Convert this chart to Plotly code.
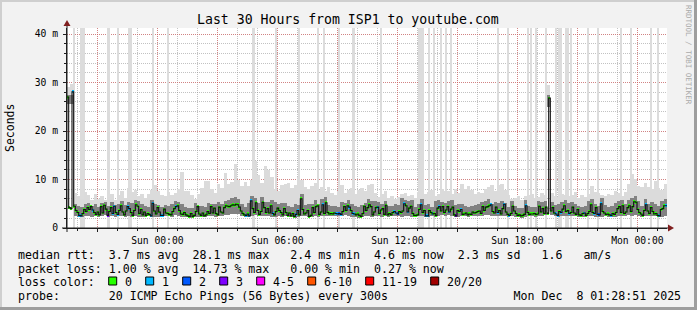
import pandas as pd
import plotly.graph_objects as go

# ---------------- data ----------------
START = "2025-12-06 19:28:51"
END = "2025-12-08 01:28:51"

# median RTT per 5-minute step (ms), 12 values per hour
median_ms = [
    27.0, 4.2, 4.0, 28.1, 4.5, 3.6, 3.2, 2.6, 2.5, 3.0, 3.8, 3.4,
    4.2, 3.8, 4.4, 3.7, 3.2, 2.8, 3.3, 2.7, 4.4, 3.1, 4.7, 3.9,
    2.6, 3.4, 4.2, 3.0, 4.5, 3.2, 2.8, 3.6, 4.6, 3.3, 2.7, 3.5,
    4.4, 4.0, 3.2, 2.6, 3.6, 4.8, 4.5, 3.0, 3.8, 2.7, 3.3, 2.6,
    3.0, 2.8, 2.5, 5.1, 3.5, 2.9, 4.2, 3.3, 2.6, 2.6, 3.9, 3.1,
    3.0, 2.8, 2.7, 3.4, 4.0, 4.4, 4.6, 3.6, 2.9, 2.8, 3.2, 2.7,
    2.5, 2.4, 3.0, 2.4, 2.6, 3.4, 4.4, 2.9, 2.6, 3.1, 2.5, 2.7,
    3.4, 3.0, 4.4, 3.1, 4.1, 3.0, 2.7, 4.3, 3.3, 3.1, 4.2, 4.6,
    4.5, 4.4, 4.6, 4.8, 4.7, 4.9, 4.8, 4.3, 3.5, 3.0, 2.7, 2.6,
    2.9, 2.5, 5.6, 4.0, 3.2, 5.2, 3.6, 2.8, 3.4, 5.3, 4.2, 3.2,
    4.0, 3.1, 4.6, 3.0, 2.7, 3.4, 4.1, 3.6, 3.2, 2.7, 4.0, 3.2,
    2.6, 3.1, 2.5, 3.0, 2.4, 2.8, 3.6, 2.7, 6.0, 3.8, 2.9, 3.1,
    3.6, 2.4, 2.6, 4.2, 3.2, 4.4, 4.6, 2.8, 3.3, 4.8, 3.0, 5.2,
    3.2, 2.9, 3.0, 2.9, 3.1, 3.0, 2.9, 3.0, 2.8, 3.4, 4.4, 3.6,
    4.6, 4.3, 3.6, 3.0, 2.9, 2.7, 2.9, 2.6, 2.4, 3.0, 4.5, 3.6,
    4.2, 4.8, 4.4, 2.7, 3.3, 4.2, 4.3, 3.0, 3.7, 4.0, 2.8, 4.7,
    2.7, 3.0, 2.7, 3.2, 3.4, 3.1, 2.9, 3.4, 3.2, 3.5, 5.0, 4.6,
    3.3, 4.1, 4.5, 3.0, 2.6, 2.6, 2.7, 3.8, 4.8, 3.2, 3.6, 2.5,
    2.5, 3.6, 3.2, 2.9, 3.0, 2.6, 4.1, 4.4, 3.5, 4.4, 3.2, 3.7,
    4.4, 3.3, 3.9, 4.3, 2.7, 2.5, 3.6, 3.4, 3.8, 2.8, 2.9, 3.1,
    2.7, 2.9, 2.8, 3.3, 3.1, 3.2, 3.4, 3.5, 3.0, 4.4, 3.6, 4.3,
    4.4, 4.6, 4.8, 3.4, 3.1, 4.3, 3.2, 3.6, 2.9, 4.0, 4.9, 3.3,
    2.8, 2.6, 3.0, 4.5, 3.5, 3.0, 2.6, 2.7, 2.5, 2.6, 2.8, 4.6,
    3.2, 2.8, 2.9, 2.9, 3.0, 2.8, 2.9, 4.5, 3.3, 4.0, 3.0, 4.3,
    3.0, 26.8, 3.5, 4.2, 3.1, 2.9, 2.6, 3.4, 3.2, 3.9, 4.6, 3.4,
    3.6, 3.0, 3.2, 4.3, 3.1, 2.8, 3.8, 2.7, 2.6, 3.0, 3.1, 2.6,
    3.0, 3.4, 4.8, 3.2, 3.0, 4.2, 2.8, 2.7, 5.0, 3.4, 3.1, 2.8,
    2.9, 2.7, 2.6, 3.0, 2.8, 3.2, 4.0, 4.4, 3.2, 4.6, 3.0, 3.3,
    4.2, 4.6, 3.4, 4.4, 5.4, 5.3, 3.8, 3.2, 2.9, 2.6, 3.6, 4.8,
    3.5, 3.0, 4.2, 3.4, 2.9, 3.0, 2.6, 2.5, 3.8, 4.0, 4.6, 4.6,
]

# lost pings (of 20) per 5-minute step
loss_pings = [
    0, 0, 0, 1, 0, 0, 0, 1, 1, 0, 0, 0,
    0, 0, 0, 1, 0, 0, 0, 0, 0, 0, 0, 0,
    3, 0, 0, 1, 1, 0, 1, 0, 0, 0, 0, 0,
    1, 1, 0, 0, 0, 0, 0, 0, 0, 0, 0, 0,
    0, 0, 1, 1, 0, 0, 0, 0, 1, 1, 0, 0,
    0, 0, 0, 0, 0, 1, 0, 0, 0, 0, 0, 0,
    0, 0, 0, 0, 0, 0, 0, 0, 0, 0, 0, 0,
    0, 0, 0, 0, 0, 0, 0, 0, 0, 0, 0, 0,
    0, 0, 0, 0, 0, 0, 0, 0, 0, 0, 0, 1,
    0, 1, 1, 0, 0, 0, 0, 0, 0, 0, 0, 0,
    0, 0, 0, 1, 0, 0, 0, 0, 0, 0, 0, 0,
    0, 0, 0, 0, 0, 1, 1, 0, 0, 0, 0, 0,
    0, 0, 0, 0, 0, 0, 0, 0, 0, 1, 0, 0,
    0, 0, 0, 0, 0, 1, 1, 2, 1, 0, 0, 0,
    0, 1, 0, 1, 1, 0, 0, 0, 0, 0, 0, 0,
    0, 0, 0, 0, 0, 0, 1, 0, 0, 0, 0, 0,
    0, 0, 0, 0, 1, 1, 2, 0, 0, 0, 1, 0,
    1, 0, 0, 0, 0, 0, 0, 0, 1, 0, 0, 1,
    1, 0, 0, 1, 0, 0, 0, 1, 0, 0, 0, 0,
    0, 1, 0, 0, 0, 3, 0, 0, 1, 0, 0, 0,
    0, 0, 0, 0, 0, 0, 0, 0, 0, 0, 0, 0,
    0, 0, 1, 0, 0, 0, 1, 0, 0, 0, 1, 0,
    0, 1, 0, 0, 0, 0, 0, 0, 0, 0, 0, 1,
    0, 0, 0, 0, 0, 0, 0, 0, 0, 0, 0, 0,
    0, 0, 0, 0, 0, 1, 1, 0, 1, 0, 0, 0,
    0, 1, 0, 0, 0, 0, 0, 0, 0, 0, 1, 0,
    0, 0, 0, 0, 1, 0, 1, 2, 1, 0, 0, 0,
    0, 0, 1, 0, 0, 0, 0, 0, 0, 0, 0, 0,
    0, 0, 0, 0, 0, 0, 0, 0, 0, 0, 0, 1,
    0, 0, 0, 0, 0, 0, 0, 1, 0, 0, 0, 1,
]

# smoke (ping spread) per 10-minute step (ms), 6 values per hour
smoke_lo = [
    25.5, 25.5, 2.4, 2.2, 2.3, 2.5, 2.4, 2.3, 2.5, 2.2, 2.4, 2.6,
    2.3, 2.4, 2.2, 2.4, 2.5, 2.3,  2.5, 2.2, 2.4, 2.3, 2.2, 2.3,
    2.4, 2.2, 2.3, 2.2, 2.4, 2.5,  2.4, 2.3, 2.6, 2.4, 2.3, 2.2,
    2.2, 2.1, 2.2, 2.3, 2.2, 2.3,  2.4, 2.5, 2.3, 2.4, 2.5, 2.6,
    2.7, 2.8, 2.9, 2.8, 2.4, 2.3,  2.2, 2.4, 2.6, 2.5, 2.4, 2.5,
    2.4, 2.3, 2.2, 2.4, 2.3, 2.4,  2.2, 2.2, 2.1, 2.3, 2.5, 2.4,
    2.2, 2.3, 2.4, 2.3, 2.4, 2.5,  2.5, 2.5, 2.4, 2.4, 2.5, 2.6,
    2.5, 2.3, 2.3, 2.1, 2.2, 2.4,  2.5, 2.3, 2.4, 2.5, 2.3, 2.4,
    2.3, 2.4, 2.5, 2.4, 2.3, 2.5,  2.5, 2.3, 2.2, 2.4, 2.5, 2.2,
    2.2, 2.4, 2.2, 2.4, 2.6, 2.4,  2.6, 2.5, 2.2, 2.3, 2.4, 2.5,
    2.3, 2.4, 2.5, 2.5, 2.4, 2.6,  2.6, 2.5, 2.4, 2.5, 2.4, 2.5,
    2.3, 2.5, 2.2, 2.2, 2.1, 2.3,  2.4, 2.4, 2.3, 2.4, 2.5, 2.6,
    25.0, 2.6, 2.4, 2.3, 2.4, 2.5, 2.5, 2.4, 2.4, 2.3, 2.2, 2.3,
    2.4, 2.5, 2.3, 2.2, 2.3, 2.4,  2.3, 2.2, 2.3, 2.5, 2.4, 2.5,
    2.6, 2.5, 2.6, 2.4, 2.2, 2.4,  2.5, 2.4, 2.4, 2.2, 2.3, 2.5,
]
smoke_mid = [
    27.5, 27.5, 5.0, 4.6, 4.4, 5.0, 5.2, 4.6, 5.0, 4.4, 5.2, 5.4,
    4.6, 5.4, 4.8, 5.0, 5.6, 4.8,  5.4, 5.2, 5.8, 5.6, 5.0, 4.6,
    4.4, 5.8, 5.0, 4.8, 4.4, 4.8,  4.6, 5.0, 5.6, 5.4, 5.0, 4.4,
    4.2, 4.2, 5.2, 4.6, 4.6, 4.4,  5.2, 5.0, 5.0, 5.4, 5.0, 5.6,
    5.8, 6.2, 6.4, 6.0, 5.0, 4.4,  5.2, 6.6, 6.2, 5.2, 6.4, 5.4,
    5.4, 5.8, 5.4, 5.0, 5.2, 5.2,  4.6, 4.4, 5.0, 4.8, 7.0, 4.8,
    5.0, 5.0, 5.8, 5.0, 6.0, 6.4,  4.8, 4.6, 4.6, 4.4, 5.4, 5.2,
    5.8, 5.0, 4.6, 4.4, 4.8, 5.2,  6.0, 5.6, 5.6, 5.4, 5.0, 5.6,
    4.6, 4.6, 5.0, 4.8, 6.2, 5.8,  5.6, 5.8, 4.4, 5.0, 6.0, 4.8,
    5.0, 4.4, 5.6, 5.8, 5.4, 5.2,  5.6, 5.8, 4.8, 5.0, 5.0, 4.6,
    4.4, 4.6, 4.8, 5.0, 5.4, 5.6,  6.0, 5.0, 5.4, 5.2, 5.6, 5.2,
    4.4, 5.6, 4.6, 4.2, 4.2, 5.8,  4.6, 4.4, 4.4, 5.6, 5.4, 5.6,
    27.5, 5.4, 4.8, 5.0, 5.4, 5.8, 5.2, 5.4, 5.0, 4.6, 4.4, 4.6,
    5.6, 6.0, 5.0, 4.6, 6.2, 4.8,  4.4, 4.6, 5.2, 5.6, 5.8, 5.0,
    5.8, 6.2, 6.6, 5.6, 4.6, 6.0,  5.0, 5.4, 5.0, 4.6, 5.6, 6.0,
]
smoke_hi = [
    29, 29.6, 7.2, 6.5, 6.0, 7.4,  6.8, 5.8, 7.0, 6.0, 6.6, 5.8,
    6.4, 7.0, 5.8, 6.8, 7.6, 6.2,  8.2, 7.4, 7.9, 6.5, 7.0, 6.2,
    7.0, 7.8, 8.8, 7.6, 6.9, 6.5,  7.4, 6.8, 7.2, 8.0, 11.6, 7.6,
    7.6, 6.8, 6.0, 7.0, 8.2, 9.6,  9.6, 8.0, 7.2, 9.0, 8.2, 11.4,
    9.0, 9.4, 13.3, 10.0, 8.6, 9.4, 8.6, 9.8, 13.9, 11.0, 9.2, 12.8,
    12.0, 10.6, 8.0, 7.6, 8.8, 9.0, 9.2, 8.2, 8.8, 10.6, 9.8, 8.4,
    8.0, 8.6, 9.2, 7.8, 8.4, 7.6,  8.4, 7.2, 6.9, 7.6, 8.8, 7.2,
    7.8, 8.2, 7.0, 7.8, 8.2, 7.6,  8.8, 9.0, 7.2, 6.4, 7.0, 7.6,
    6.2, 6.6, 6.0, 6.4, 7.0, 7.2,  6.5, 6.8, 6.2, 7.4, 7.8, 7.0,
    7.4, 7.8, 6.6, 7.0, 8.0, 7.6,  7.6, 7.0, 8.0, 7.2, 9.0, 8.0,
    8.6, 7.8, 7.0, 7.4, 7.2, 8.0,  8.4, 8.8, 7.6, 8.8, 9.0, 7.8,
    6.8, 6.0, 6.2, 6.6, 5.8, 6.6,  6.8, 7.0, 6.2, 6.4, 7.2, 6.8,
    29.5, 7.2, 6.6, 6.4, 7.0, 6.8, 6.6, 6.8, 7.4, 6.2, 6.8, 6.4,
    7.0, 8.6, 7.4, 7.2, 6.8, 6.6,  7.0, 6.8, 7.6, 7.2, 6.6, 7.4,
    9.0, 11.2, 10.2, 8.6, 8.4, 9.2, 8.4, 8.0, 9.6, 8.2, 7.8, 9.0,
]

# 5-minute steps in which some pings went off the top of the graph
outlier_steps = [4, 8, 9, 10, 24, 25, 30, 37, 38, 51, 60, 111, 112, 125, 139,
                 150, 154, 163, 171, 172, 188, 211, 212, 213, 217, 220, 224,
                 227, 230, 258, 264, 276, 278, 281, 287, 293, 295, 296, 299,
                 300, 302, 312, 318, 332, 338, 350, 354]

loss_labels = ["0", "1", "2", "3", "4-5", "6-10", "11-19", "20/20"]
loss_colors = ["#26ff00", "#00b8ff", "#0059ff", "#7e00ff",
               "#ff00ff", "#ff5500", "#ff0000", "#a10000"]

y_tick_vals = [0, 10, 20, 30, 40]
y_tick_text = ["0", "10 m", "20 m", "30 m", "40 m"]

title_text = "Last 30 Hours from ISP1 to youtube.com"
stat_lines = [
    "median rtt:  3.7 ms avg  28.1 ms max   2.4 ms min  4.6 ms now  2.3 ms sd   1.6   am/s",
    "packet loss: 1.00 % avg  14.73 % max   0.00 % min  0.27 % now",
    "loss color:",
    "probe:       20 ICMP Echo Pings (56 Bytes) every 300s                  Mon Dec  8 01:28:51 2025",
]

# ---------------- geometry helpers ----------------
W, H = 697, 310
L, R, T, B = 67, 30, 28, 82
PW, PH = W - L - R, H - T - B
Y_TOP = 41.24
MONO = "DejaVu Sans Mono"


def px(x):
    return (x - L) / PW


def py(y):
    return (T + PH - y) / PH


def loss_bin(n):
    if n <= 3:
        return n
    if n <= 5:
        return 4
    if n <= 10:
        return 5
    if n <= 19:
        return 6
    return 7


def nb(s):
    return s.replace(" ", "\u00a0")


t5 = pd.date_range(START, periods=len(median_ms), freq="5min")
c5 = t5 + pd.Timedelta(minutes=2.5)
t10 = pd.date_range(START, periods=len(smoke_hi), freq="10min")
c10 = t10 + pd.Timedelta(minutes=5)
MS5, MS10 = 300000, 600000

fig = go.Figure()

# off-scale columns
fig.add_trace(go.Bar(
    x=[c5[i] for i in outlier_steps], y=[Y_TOP] * len(outlier_steps), base=0,
    width=MS5, marker=dict(color="#dcdcdc", line=dict(width=0)), hoverinfo="skip"))
# light smoke
fig.add_trace(go.Bar(
    x=c10, y=[h - l for h, l in zip(smoke_hi, smoke_lo)], base=smoke_lo,
    width=MS10, marker=dict(color="#dbdbdb", line=dict(width=0)), hoverinfo="skip"))
# dark smoke
fig.add_trace(go.Bar(
    x=c10, y=[m - l for m, l in zip(smoke_mid, smoke_lo)], base=smoke_lo,
    width=MS10, marker=dict(color="#828282", line=dict(width=0)), hoverinfo="skip"))
# median line
fig.add_trace(go.Scatter(
    x=list(t5) + [pd.Timestamp(END)], y=median_ms + [median_ms[-1]],
    mode="lines", line=dict(color="#111111", width=1.1, shape="hv"), hoverinfo="skip"))
# loss-coloured median marks
SW = 0.3
fig.add_trace(go.Bar(
    x=c5, y=[2 * SW] * len(median_ms), base=[m - SW for m in median_ms],
    width=MS5,
    marker=dict(color=[loss_colors[loss_bin(n)] for n in loss_pings], line=dict(width=0)),
    hoverinfo="skip"))

major_ticks = pd.date_range("2025-12-06 21:00", "2025-12-08 00:00", freq="3h")
major_text = [d.strftime("%a %H:%M") if d.hour % 6 == 0 else "" for d in major_ticks]

GRID_MAJOR = "rgba(222,80,80,0.55)"
GRID_MINOR = "rgba(143,143,143,0.55)"
AXIS = "#1f1f1f"

fig.update_xaxes(
    type="date", range=[START, END], tickmode="array", tickvals=major_ticks,
    ticktext=major_text, showgrid=True, gridcolor=GRID_MAJOR, gridwidth=1,
    griddash="1px,1px", ticks="outside", ticklen=3, tickcolor=AXIS,
    minor=dict(dtick=3600000, tick0="2025-12-06 00:00", showgrid=True,
               gridcolor=GRID_MINOR, griddash="1px,1px", gridwidth=1,
               ticks="outside", ticklen=2, tickcolor=AXIS),
    showline=True, linecolor=AXIS, linewidth=1, zeroline=False,
    automargin=False, tickfont=dict(family=MONO, size=9.7, color="#000"),
    fixedrange=True)
fig.update_yaxes(
    range=[0, Y_TOP], tickmode="array", tickvals=y_tick_vals, ticktext=y_tick_text,
    showgrid=True, gridcolor=GRID_MAJOR, gridwidth=1, griddash="1px,1px",
    ticks="outside", ticklen=3, tickcolor=AXIS, ticklabelstandoff=3,
    minor=dict(dtick=2, showgrid=True, gridcolor=GRID_MINOR, griddash="1px,1px",
               gridwidth=1, ticks="outside", ticklen=2, tickcolor=AXIS),
    showline=True, linecolor=AXIS, linewidth=1, zeroline=False,
    automargin=False, tickfont=dict(family=MONO, size=9.7, color="#000"),
    fixedrange=True)

annotations = [
    dict(text=nb(title_text), x=px(348), y=py(19), xanchor="center", yanchor="middle",
         font=dict(family=MONO, size=13.2, color="#000")),
    dict(text="Seconds", x=px(10), y=0.5, textangle=-90, xanchor="center",
         yanchor="middle", font=dict(family=MONO, size=11.5, color="#000")),
    dict(text=nb("RRDTOOL / TOBI OETIKER"), x=px(689), y=py(55), textangle=90,
         xanchor="center", yanchor="middle", font=dict(family=MONO, size=7.5, color="#aaaaaa")),
]
line_y = [255, 268.5, 282, 295.5]
for s, yy in zip(stat_lines, line_y):
    annotations.append(dict(text=nb(s), x=px(16), y=py(yy), xanchor="left", yanchor="middle",
                            font=dict(family=MONO, size=11.6, color="#000")))

shapes = []
bx = 108.7
for lab, col in zip(loss_labels, loss_colors):
    shapes.append(dict(type="rect", xref="paper", yref="paper",
                       x0=px(bx), x1=px(bx + 8), y0=py(285), y1=py(277),
                       fillcolor=col, line=dict(color="#000", width=1)))
    annotations.append(dict(text=nb(lab), x=px(bx + 14.5), y=py(282), xanchor="left",
                            yanchor="middle", font=dict(family=MONO, size=11.6, color="#000")))
    bx += 30 + 7 * len(lab)

for a in annotations:
    a.update(xref="paper", yref="paper", showarrow=False)

# axis extensions and arrows
shapes += [
    dict(type="line", xref="paper", yref="paper", x0=px(62), x1=px(669), y0=0, y1=0,
         line=dict(color=AXIS, width=1)),
    dict(type="line", xref="paper", yref="paper", x0=0, x1=0, y0=py(232), y1=py(25),
         line=dict(color=AXIS, width=1)),
    dict(type="path", xref="paper", yref="paper",
         path=f"M {px(63.5)},{py(26)} L {px(70.5)},{py(26)} L {px(67)},{py(20)} Z",
         fillcolor="#801f1f", line=dict(width=0)),
    dict(type="path", xref="paper", yref="paper",
         path=f"M {px(668)},{py(224.5)} L {px(668)},{py(231.5)} L {px(674)},{py(228)} Z",
         fillcolor="#801f1f", line=dict(width=0)),
    # frame
    dict(type="rect", xref="paper", yref="paper", x0=px(0), x1=px(697), y0=py(0), y1=py(2),
         fillcolor="#cfcfcf", line=dict(width=0), layer="below"),
    dict(type="rect", xref="paper", yref="paper", x0=px(0), x1=px(2), y0=py(0), y1=py(310),
         fillcolor="#cfcfcf", line=dict(width=0), layer="below"),
    dict(type="rect", xref="paper", yref="paper", x0=px(0), x1=px(697), y0=py(307), y1=py(310),
         fillcolor="#9e9e9e", line=dict(width=0)),
    dict(type="rect", xref="paper", yref="paper", x0=px(694), x1=px(697), y0=py(0), y1=py(310),
         fillcolor="#9e9e9e", line=dict(width=0)),
]

fig.update_layout(
    width=W, height=H, autosize=False,
    margin=dict(l=L, r=R, t=T, b=B, pad=0),
    paper_bgcolor="#f2f2f2", plot_bgcolor="#ffffff",
    showlegend=False, barmode="overlay", bargap=0,
    font=dict(family=MONO, size=10, color="#000"),
    annotations=annotations, shapes=shapes,
)

fig.write_html("out.html", config={"displayModeBar": False})
